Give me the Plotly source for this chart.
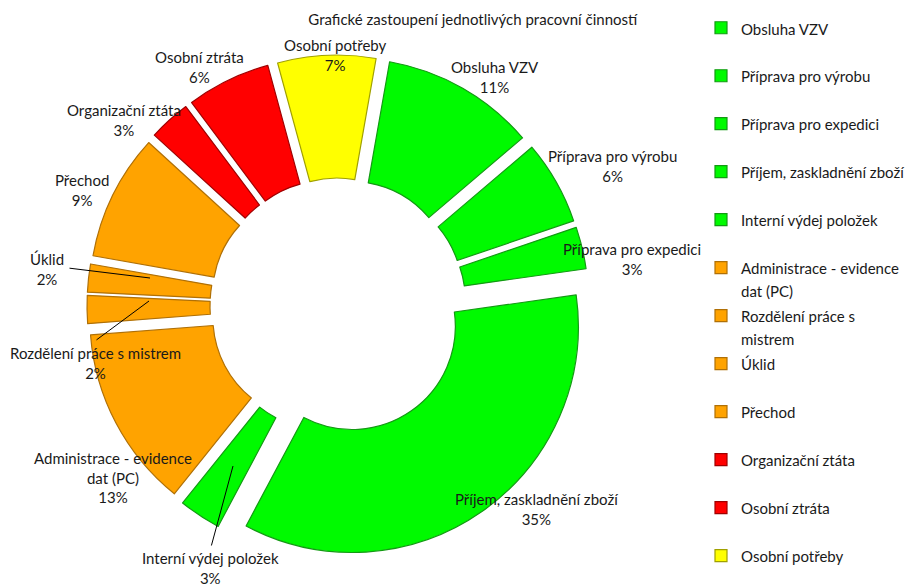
import plotly.graph_objects as go

# ---- data ----
categories = [
    "Obsluha VZV", "Příprava pro výrobu", "Příprava pro expedici",
    "Příjem, zaskladnění zboží", "Interní výdej položek",
    "Administrace - evidence dat (PC)", "Rozdělení práce s mistrem",
    "Úklid", "Přechod", "Organizační ztáta", "Osobní ztráta", "Osobní potřeby",
]
shares = [11, 6, 3, 35, 3, 13, 2, 2, 9, 3, 6, 7]

# data-label text as wrapped in the chart
slice_text = [
    "Obsluha VZV", "Příprava pro výrobu", "Příprava pro expedici",
    "Příjem, zaskladnění zboží", "Interní výdej položek",
    "Administrace - evidence<br>dat (PC)", "Rozdělení práce s mistrem",
    "Úklid", "Přechod", "Organizační ztáta", "Osobní ztráta", "Osobní potřeby",
]
# legend text as wrapped in the legend
legend_text = [
    "Obsluha VZV", "Příprava pro výrobu", "Příprava pro expedici",
    "Příjem, zaskladnění zboží", "Interní výdej položek",
    "Administrace - evidence<br>dat (PC)", "Rozdělení práce s<br>mistrem",
    "Úklid", "Přechod", "Organizační ztáta", "Osobní ztráta", "Osobní potřeby",
]

# ---- styling / layout (not data) ----
W, H = 911, 587
GREEN, ORANGE, RED, YELLOW = "#00FA00", "#FFA300", "#FF0000", "#FFFF00"
fill_colors = [GREEN] * 5 + [ORANGE] * 4 + [RED] * 2 + [YELLOW]
edge_colors = ["#139A13"] * 5 + ["#B07006"] * 4 + ["#A00000"] * 2 + ["#A0A000"]

# data-label anchor positions (pixels, from the top-left), Excel "best fit" style
label_px = [
    (495, 77), (612, 166), (632, 259), (537, 509), (210, 568), (113, 477),
    (95, 363), (47, 269), (82, 190), (124, 120), (199, 67), (335, 55),
]
# leader lines for the small slices: (label end, slice end) in pixels
leaders = {
    7: ((68, 268), (150, 278)),
    6: ((95, 341), (149, 301)),
    4: ((211, 547), (233, 466)),
}

FONT = "Lato, 'Open Sans', sans-serif"
TXT = "#1a1a1a"

def px(x, y):
    return x / W, 1 - y / H

legend_labels = [
    "<span style='font-size:15px'>" + t + "</span>" + ("" if "<br>" in t else "<br> ")
    for t in legend_text
]

fig = go.Figure(
    go.Pie(
        labels=legend_labels,
        values=shares,
        customdata=categories,
        hovertemplate="%{customdata}: %{value}%<extra></extra>",
        textinfo="none",
        hole=0.456,
        pull=0.11,
        sort=False,
        direction="clockwise",
        rotation=10,
        marker=dict(colors=fill_colors, line=dict(color=edge_colors, width=1.2)),
        domain=dict(x=[0.0955, 0.6465], y=[0.0511, 0.9063]),
        showlegend=True,
    )
)

annotations = []
for i, (txt, val) in enumerate(zip(slice_text, shares)):
    x, y = px(*label_px[i])
    annotations.append(dict(
        x=x, y=y, xref="paper", yref="paper", showarrow=False,
        text=f"{txt}<br>{val}%", align="center",
        xanchor="center", yanchor="middle",
        font=dict(family=FONT, size=15, color=TXT),
    ))

for i, ((x0, y0), (x1, y1)) in leaders.items():
    hx, hy = px(x1, y1)
    annotations.append(dict(
        x=hx, y=hy, ax=x0 - x1, ay=y0 - y1, xref="paper", yref="paper",
        axref="pixel", ayref="pixel", text="", showarrow=True,
        arrowhead=0, arrowwidth=1, arrowcolor="#000000", standoff=0,
    ))

fig.update_layout(
    width=W, height=H,
    margin=dict(l=0, r=0, t=0, b=0, autoexpand=False),
    paper_bgcolor="white",
    font=dict(family=FONT, size=15, color=TXT),
    title=dict(
        text="Grafické zastoupení jednotlivých pracovní činností",
        x=0.519, xanchor="center", y=1 - 20 / H, yanchor="middle",
        font=dict(family=FONT, size=15, color=TXT),
    ),
    legend=dict(
        x=701 / W, y=1 - 10 / H, xanchor="left", yanchor="top",
        valign="top",
        font=dict(family=FONT, size=17.3, color=TXT),
        bgcolor="rgba(0,0,0,0)",
    ),
    annotations=annotations,
)

fig.write_html(
    "out.html",
    config={"displayModeBar": False},
    post_script="document.body.style.margin='0';",
)
